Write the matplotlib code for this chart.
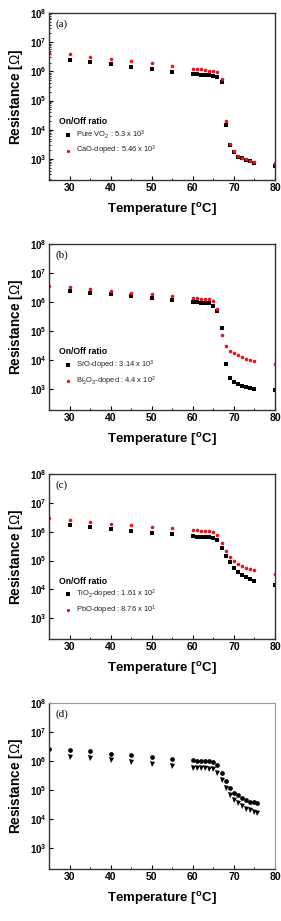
import matplotlib
matplotlib.use("Agg")
import matplotlib.pyplot as plt
import numpy as np

plt.rcParams['font.family'] = ['Liberation Sans', 'DejaVu Sans']
plt.rcParams['mathtext.fontset'] = 'custom'
plt.rcParams['mathtext.rm'] = 'Liberation Sans'
plt.rcParams['mathtext.bf'] = 'Liberation Sans:bold'
plt.rcParams['mathtext.it'] = 'Liberation Sans:italic'

# ---------------- data ----------------
temp_main = [30, 35, 40, 45, 50, 55, 60, 61, 62, 63, 64, 65, 66, 67, 68, 69, 70, 71, 72, 73, 74, 75, 80]
temp_red = [25] + temp_main

# (a)
a_pure = [2.45e6, 2.1e6, 1.75e6, 1.4e6, 1.18e6, 9.8e5, 8.1e5, 8.0e5, 7.8e5, 7.6e5, 7.3e5, 7.0e5, 6.5e5,
          4.2e5, 1.5e4, 2.9e3, 1.7e3, 1.2e3, 1.05e3, 9.3e2, 8.2e2, 7.1e2, 5.8e2]
a_cao = [4.4e6, 3.9e6, 3.2e6, 2.7e6, 2.3e6, 2.0e6, 1.5e6, 1.23e6, 1.2e6, 1.17e6, 1.12e6, 1.07e6, 1.02e6, 9.5e5,
         5.6e5, 1.95e4, 3.2e3, 1.8e3, 1.26e3, 1.1e3, 9.8e2, 8.7e2, 8.1e2, 7.4e2]
# (b)
b_sro = [2.45e6, 2.1e6, 1.85e6, 1.6e6, 1.35e6, 1.2e6, 1.0e6, 9.8e5, 9.5e5, 9.3e5, 8.9e5, 7.4e5, 4.8e5,
         1.23e5, 7.1e3, 2.4e3, 1.73e3, 1.45e3, 1.3e3, 1.17e3, 1.07e3, 1.02e3, 9.3e2]
b_bi = [3.6e6, 3.3e6, 2.75e6, 2.4e6, 2.05e6, 1.85e6, 1.58e6, 1.35e6, 1.33e6, 1.32e6, 1.3e6, 1.25e6, 1.1e6, 5.9e5,
        7.2e4, 3.1e4, 2.05e4, 1.8e4, 1.55e4, 1.3e4, 1.13e4, 1.04e4, 9.6e3, 7.2e3]
# (c)
c_tio = [1.7e6, 1.42e6, 1.2e6, 1.03e6, 8.9e5, 8.1e5, 6.9e5, 6.7e5, 6.7e5, 6.5e5, 6.4e5, 6.0e5, 5.3e5,
         2.8e5, 1.48e5, 9.1e4, 5.6e4, 4.1e4, 3.2e4, 2.6e4, 2.2e4, 1.96e4, 1.45e4]
c_pbo = [3.1e6, 2.6e6, 2.2e6, 1.9e6, 1.73e6, 1.5e6, 1.33e6, 1.13e6, 1.1e6, 1.08e6, 1.05e6, 1.02e6, 9.4e5, 7.8e5,
         4.0e5, 2.2e5, 1.3e5, 9.4e4, 7.6e4, 6.5e4, 5.6e4, 5.1e4, 4.6e4, 3.3e4]
# (d)
temp_d = [25, 30, 35, 40, 45, 50, 55, 60, 61, 62, 63, 64, 65, 66, 67, 68, 69, 70, 71, 72, 73, 74, 75, 75.5]
d_circle = [2.7e6, 2.4e6, 2.2e6, 1.75e6, 1.6e6, 1.4e6, 1.2e6, 1.1e6, 1.02e6, 1.0e6, 1.0e6, 9.7e5, 9.2e5, 7.1e5,
            4.0e5, 2.1e5, 1.2e5, 8.1e4, 6.7e4, 5.4e4, 4.5e4, 4.0e4, 3.8e4, 3.6e4]
temp_d_tri = temp_d[1:]
d_tri = [1.4e6, 1.3e6, 1.1e6, 9.3e5, 8.0e5, 6.7e5, 5.9e5, 5.8e5, 5.7e5, 5.6e5, 5.5e5, 5.3e5, 4.0e5,
         2.3e5, 1.2e5, 7.0e4, 4.7e4, 3.6e4, 2.8e4, 2.3e4, 2.0e4, 1.7e4, 1.6e4]

legend_a = [r"Pure VO$_2$ : 5.3 x 10$^3$", r"CaO-doped : 5.46 x 10$^3$"]
legend_b = [r"SrO-doped : 3.14 x 10$^3$", r"Bi$_2$O$_3$-doped : 4.4 x 10$^2$"]
legend_c = [r"TiO$_2$-doped : 1.61 x 10$^2$", r"PbO-doped : 8.76 x 10$^1$"]

xticks = [30, 40, 50, 60, 70, 80]
ytick_exp = [3, 4, 5, 6, 7, 8]

# ---------------- figure ----------------
W, H = 281, 921
fig = plt.figure(figsize=(W / 100, H / 100), dpi=100)

panels = [(13, 180), (244, 410), (474, 639), (703, 869)]
L, R = 49, 275


def make_ax(top, bot, label, dotted=False):
    ax = fig.add_axes([L / W, 1 - bot / H, (R - L) / W, (bot - top) / H])
    ax.set_yscale('log')
    ax.set_xlim(25, 80)
    ax.set_ylim(190, 1e8)
    ax.set_xticks(xticks)
    ax.set_xticks([35, 45, 55, 65, 75], minor=True)
    ax.set_xticklabels([str(t) for t in xticks], fontsize=7.5, fontweight='bold')
    ax.set_yticks([10.0 ** e for e in ytick_exp])
    ax.set_yticklabels([r"$\mathbf{10^{%d}}$" % e for e in ytick_exp], fontsize=7)
    ax.yaxis.set_minor_locator(matplotlib.ticker.LogLocator(base=10, subs=np.arange(2, 10)))
    ax.yaxis.set_minor_formatter(matplotlib.ticker.NullFormatter())
    ax.tick_params(which='both', direction='in', top=False, right=False, pad=2)
    ax.tick_params(which='major', length=3, width=0.8)
    ax.tick_params(which='minor', length=1.5, width=0.6)
    for s in ax.spines.values():
        s.set_linewidth(1.0)
        s.set_color('#333333')
    if dotted:
        for s in ['top', 'right']:
            ax.spines[s].set_linestyle((0, (1, 1)))
            ax.spines[s].set_color('#999999')
            ax.spines[s].set_linewidth(0.8)
    ax.set_xlabel(r"Temperature [$^\mathbf{o}$C]", fontsize=9.5, fontweight='bold', labelpad=6)
    ax.set_ylabel(r"Resistance [$\Omega$]", fontsize=9.8, fontweight='bold', labelpad=3)
    ax.text(0.03, 0.93, label, transform=ax.transAxes, fontsize=8,
            family='Liberation Serif', va='center', ha='left')
    return ax


def legend_block(ax, texts):
    ax.text(0.045, 0.35, "On/Off ratio", transform=ax.transAxes, fontsize=6.2,
            fontweight='bold', va='center', ha='left')
    ys = [0.27, 0.175]
    styles = [dict(marker='s', color='black'), dict(marker='o', color='#e8141c')]
    for y, t, st in zip(ys, texts, styles):
        ax.plot([0.085], [y], transform=ax.transAxes, linestyle='none', markersize=2.4,
                markeredgewidth=0, **st)
        ax.text(0.12, y, t, transform=ax.transAxes, fontsize=5.4, va='center', ha='left',
                color='#222222')


red = '#e8141c'
ms = 2.6

ax = make_ax(*panels[0], "(a)")
ax.plot(temp_main, a_pure, 's', color='black', ms=ms, mew=0, clip_on=True)
ax.plot(temp_red, a_cao, 'o', color=red, ms=ms, mew=0, clip_on=True)
legend_block(ax, legend_a)

ax = make_ax(*panels[1], "(b)")
ax.plot(temp_main, b_sro, 's', color='black', ms=ms, mew=0)
ax.plot(temp_red, b_bi, 'o', color=red, ms=ms, mew=0)
legend_block(ax, legend_b)

ax = make_ax(*panels[2], "(c)")
ax.plot(temp_main, c_tio, 's', color='black', ms=ms, mew=0)
ax.plot(temp_red, c_pbo, 'o', color=red, ms=ms, mew=0)
legend_block(ax, legend_c)

ax = make_ax(*panels[3], "(d)", dotted=True)
ax.plot(temp_d, d_circle, 'o', color='black', ms=3.4, mew=0)
ax.plot(temp_d_tri, d_tri, 'v', color='black', ms=3.6, mew=0)

fig.savefig("out.png", dpi=100)
